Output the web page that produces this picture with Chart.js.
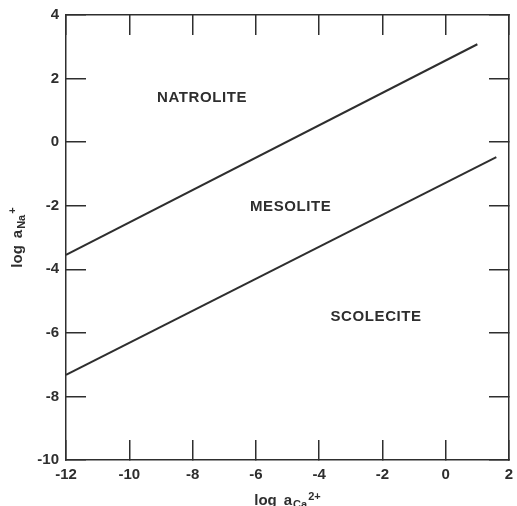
<!DOCTYPE html>
<html>
<head>
<meta charset="utf-8">
<script src="https://cdn.jsdelivr.net/npm/chart.js@4/dist/chart.umd.min.js"></script>
<style>
  html, body { margin: 0; padding: 0; background: #fff; }
  #wrap { width: 517px; height: 506px; }
</style>
</head>
<body>
<div id="wrap"><canvas id="phaseChart" width="517" height="506"></canvas></div>
<script>
// Данные диаграммы
const xTicks = [-12, -10, -8, -6, -4, -2, 0, 2];
const yTicks = [-10, -8, -6, -4, -2, 0, 2, 4];

// Граница натролит / мезолит
const upperX = [-12, 1.0];
const upperY = [-3.55, 3.08];

// Граница мезолит / сколецит
const lowerX = [-12, 1.6];
const lowerY = [-7.32, -0.47];

// Подписи полей
const fieldNames = ['NATROLITE', 'MESOLITE', 'SCOLECITE'];
const fieldX = [-7.7, -4.9, -2.2];
const fieldY = [1.4, -2.05, -5.5];

const ink = '#2e2e2e';
const font = '"Liberation Sans", Arial, sans-serif';

function toPoints(xs, ys) {
  return xs.map((x, i) => ({ x: x, y: ys[i] }));
}

// Рисуем текст из частей (обычный, нижний и верхний индексы)
function drawParts(ctx, parts, cx, baseY) {
  let total = 0;
  parts.forEach((p) => {
    ctx.font = `bold ${p.size}px ${font}`;
    total += ctx.measureText(p.t).width + (p.gap || 0);
  });
  let x = cx - total / 2;
  parts.forEach((p) => {
    ctx.font = `bold ${p.size}px ${font}`;
    ctx.fillText(p.t, x, baseY + (p.dy || 0));
    x += ctx.measureText(p.t).width + (p.gap || 0);
  });
}

// Плагин: подписи полей и названия осей
const labelsPlugin = {
  id: 'labelsPlugin',
  afterDatasetsDraw(chart) {
    const { ctx, chartArea, scales } = chart;
    ctx.save();
    ctx.fillStyle = ink;
    ctx.textAlign = 'center';
    ctx.textBaseline = 'middle';
    ctx.font = `bold 15px ${font}`;
    ctx.letterSpacing = '0.6px';
    fieldNames.forEach((name, i) => {
      ctx.fillText(name, scales.x.getPixelForValue(fieldX[i]), scales.y.getPixelForValue(fieldY[i]));
    });
    ctx.letterSpacing = '0px';

    ctx.textAlign = 'left';
    ctx.textBaseline = 'alphabetic';
    // Ось X: log a(Ca2+)
    const cx = (chartArea.left + chartArea.right) / 2;
    drawParts(ctx, [
      { t: 'log', size: 15, gap: 7 },
      { t: 'a', size: 15, gap: 1 },
      { t: 'Ca', size: 11, dy: 3, gap: 1 },
      { t: '2+', size: 11, dy: -5 }
    ], cx, 505);

    // Ось Y: log a(Na+)
    const cy = (chartArea.top + chartArea.bottom) / 2;
    ctx.translate(22, cy);
    ctx.rotate(-Math.PI / 2);
    drawParts(ctx, [
      { t: 'log', size: 15, gap: 7 },
      { t: 'a', size: 15, gap: 1 },
      { t: 'Na', size: 11, dy: 3, gap: 1 },
      { t: '+', size: 11, dy: -6 }
    ], 0, 0);
    ctx.restore();
  }
};

// Общие настройки осей: засечки внутрь
function axis(position, withLabels, size) {
  const horizontal = position === 'top' || position === 'bottom';
  const range = horizontal ? xTicks : yTicks;
  return {
    type: 'linear',
    position: position,
    min: range[0],
    max: range[range.length - 1],
    afterBuildTicks: (scale) => {
      scale.ticks = range.map((v) => ({ value: v }));
    },
    afterFit: (scale) => {
      if (horizontal) scale.height = size;
      else scale.width = size;
      // убираем запас под крайние подписи, размеры задаём сами
      scale.paddingLeft = 0;
      scale.paddingRight = 0;
      scale.paddingTop = 0;
      scale.paddingBottom = 0;
    },
    grid: {
      drawOnChartArea: false,
      drawTicks: true,
      tickLength: -20,
      color: ink,
      lineWidth: 1.5
    },
    border: { display: true, color: ink, width: 1.5 },
    ticks: {
      display: withLabels,
      color: ink,
      padding: horizontal ? 26 : 27,
      font: { family: font, size: 15, weight: 'bold' },
      maxRotation: 0,
      callback: (v) => String(v)
    }
  };
}

const ctx = document.getElementById('phaseChart').getContext('2d');
new Chart(ctx, {
  type: 'scatter',
  data: {
    datasets: [
      {
        data: toPoints(upperX, upperY),
        showLine: true,
        borderColor: ink,
        borderWidth: 2,
        pointRadius: 0
      },
      {
        data: toPoints(lowerX, lowerY),
        showLine: true,
        borderColor: ink,
        borderWidth: 2,
        pointRadius: 0
      }
    ]
  },
  options: {
    responsive: false,
    animation: false,
    layout: { padding: 0 },
    plugins: {
      legend: { display: false },
      tooltip: { enabled: false }
    },
    scales: {
      x: axis('bottom', true, 46),
      x2: axis('top', false, 15),
      y: axis('left', true, 66),
      y2: axis('right', false, 8)
    }
  },
  plugins: [labelsPlugin]
});
</script>
</body>
</html>
